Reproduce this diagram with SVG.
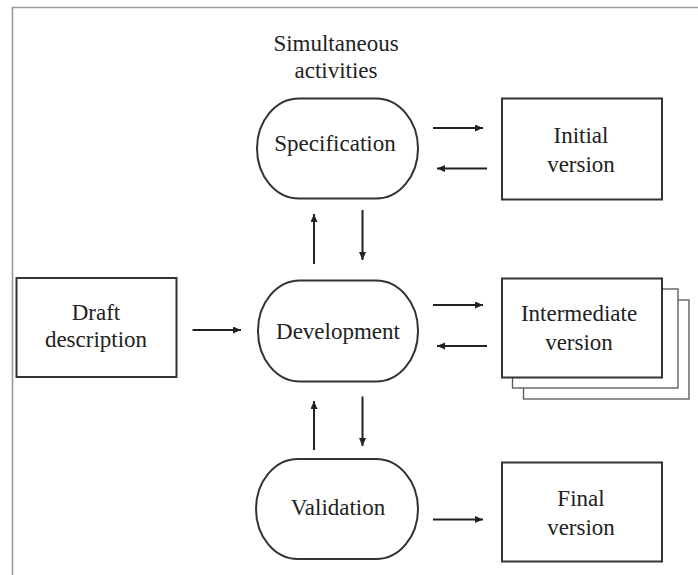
<svg xmlns="http://www.w3.org/2000/svg" width="698" height="575" viewBox="0 0 698 575">
<style>
.frame{fill:none;stroke:#9a9a9a;stroke-width:1.6}
.box{fill:#fff;stroke:#333;stroke-width:2}
.back{fill:#fff;stroke:#555;stroke-width:1.3}
.oval{fill:#fff;stroke:#333;stroke-width:2}
.lbl{font-size:23px;fill:#222;text-anchor:middle}
.arr{stroke:#222;stroke-width:2;fill:none;marker-end:url(#ah)}
</style>
<defs>
<marker id="ah" markerUnits="userSpaceOnUse" markerWidth="9" markerHeight="8" refX="8" refY="3.5" orient="auto">
<path d="M0,0 L8,3.5 L0,7 z" fill="#222"/>
</marker>
</defs>
<rect width="698" height="575" fill="#fff"/>
<path class="frame" d="M12.5,575 V7.5 H698"/>

<g font-family="Liberation Serif, Times New Roman, DejaVu Serif, serif">
<g id="title">
<text class="lbl" x="336" y="51">Simultaneous</text>
<text class="lbl" x="336" y="78">activities</text>
</g>

<g id="specification">
<rect class="oval" x="257" y="98.5" width="161" height="100" rx="42" ry="50"/>
<text class="lbl" x="335" y="151">Specification</text>
</g>

<g id="initial">
<rect class="box" x="502" y="98.5" width="160" height="101"/>
<text class="lbl" x="581" y="143">Initial</text>
<text class="lbl" x="581" y="172">version</text>
</g>

<g id="draft">
<rect class="box" x="16.5" y="278" width="160" height="99"/>
<text class="lbl" x="96" y="320">Draft</text>
<text class="lbl" x="96" y="347">description</text>
</g>

<g id="development">
<rect class="oval" x="258" y="280.5" width="160" height="101" rx="42" ry="50"/>
<text class="lbl" x="338" y="339">Development</text>
</g>

<g id="intermediate">
<rect class="back" x="523.5" y="300" width="165.5" height="99"/>
<rect class="back" x="512.5" y="289" width="165.5" height="99"/>
<rect class="box" x="502" y="278.5" width="160" height="99"/>
<text class="lbl" x="579" y="321">Intermediate</text>
<text class="lbl" x="579" y="350">version</text>
</g>

<g id="validation">
<rect class="oval" x="256" y="459" width="162" height="100" rx="42" ry="50"/>
<text class="lbl" x="338" y="515">Validation</text>
</g>

<g id="final">
<rect class="box" x="502" y="462.5" width="160" height="99"/>
<text class="lbl" x="581" y="506">Final</text>
<text class="lbl" x="581" y="535">version</text>
</g>
</g>

<g id="connectors">
<line class="arr" x1="433" y1="128" x2="483" y2="128"/>
<line class="arr" x1="487" y1="168.5" x2="437" y2="168.5"/>
<line class="arr" x1="314" y1="264" x2="314" y2="214"/>
<line class="arr" x1="362.5" y1="210" x2="362.5" y2="260"/>
<line class="arr" x1="192.5" y1="330" x2="241" y2="330"/>
<line class="arr" x1="433" y1="305" x2="483" y2="305"/>
<line class="arr" x1="487" y1="346" x2="437" y2="346"/>
<line class="arr" x1="314" y1="450" x2="314" y2="401"/>
<line class="arr" x1="362.5" y1="396.5" x2="362.5" y2="446"/>
<line class="arr" x1="433" y1="519.5" x2="483" y2="519.5"/>
</g>
</svg>
